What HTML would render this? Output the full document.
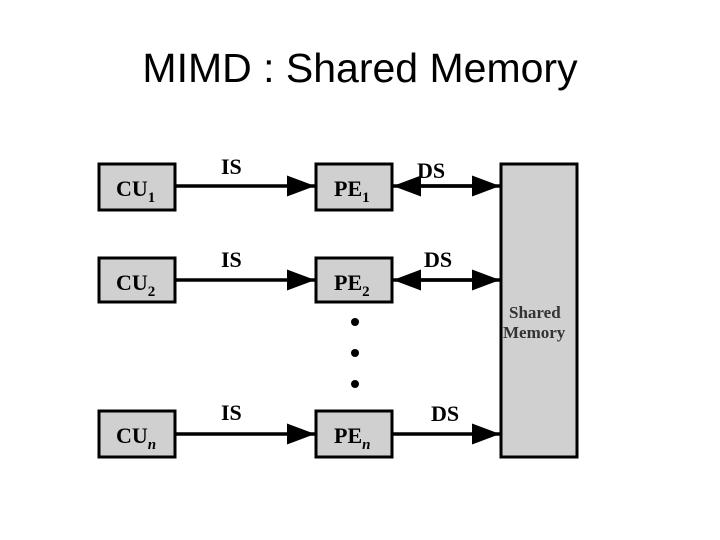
<!DOCTYPE html>
<html><head><style>
body{margin:0;background:#fff;width:720px;height:540px;overflow:hidden}
.t{position:absolute;top:44px;left:0;width:720px;text-align:center;font-family:"Liberation Sans",sans-serif;font-size:41px;line-height:48px;color:#000}
</style></head><body>
<div class="t">MIMD : Shared Memory</div>
<svg width="720" height="540" style="position:absolute;left:0;top:0" font-family="Liberation Serif,serif" font-weight="bold">
<defs>
<marker id="a" markerWidth="8" markerHeight="6" refX="8" refY="3" orient="auto" markerUnits="strokeWidth"><path d="M0,0L8,3L0,6z" fill="#000"/></marker>
</defs>
<g fill="#d0d0d0" stroke="#000" stroke-width="3">
<rect x="99" y="164" width="76" height="46"/>
<rect x="99" y="258" width="76" height="44"/>
<rect x="99" y="411" width="76" height="46"/>
<rect x="316" y="164" width="76" height="46"/>
<rect x="316" y="258" width="76" height="44"/>
<rect x="316" y="411" width="76" height="46"/>
<rect x="501" y="164" width="76" height="293"/>
</g>
<g stroke="#000" stroke-width="3.5">
<line x1="175" y1="186" x2="315" y2="186" marker-end="url(#a)"/>
<line x1="175" y1="280" x2="315" y2="280" marker-end="url(#a)"/>
<line x1="175" y1="434" x2="315" y2="434" marker-end="url(#a)"/>
<line x1="410" y1="186" x2="500" y2="186" marker-end="url(#a)"/>
<line x1="410" y1="280" x2="500" y2="280" marker-end="url(#a)"/>
<line x1="392" y1="434" x2="500" y2="434" marker-end="url(#a)"/>
<line x1="480" y1="186" x2="393" y2="186" marker-end="url(#a)"/>
<line x1="480" y1="280" x2="393" y2="280" marker-end="url(#a)"/>
</g>
<g fill="#000">
<circle cx="355" cy="322" r="4"/><circle cx="355" cy="353" r="4"/><circle cx="355" cy="384" r="4"/>
</g>
<g font-size="22" fill="#000">
<text x="116" y="196">CU<tspan font-size="15" dy="6">1</tspan></text>
<text x="116" y="290">CU<tspan font-size="15" dy="6">2</tspan></text>
<text x="116" y="443">CU<tspan font-size="15" font-style="italic" dy="6">n</tspan></text>
<text x="334" y="196">PE<tspan font-size="15" dy="6">1</tspan></text>
<text x="334" y="290">PE<tspan font-size="15" dy="6">2</tspan></text>
<text x="334" y="443">PE<tspan font-size="15" font-style="italic" dy="6">n</tspan></text>
<text x="221" y="174">IS</text>
<text x="221" y="267">IS</text>
<text x="221" y="420">IS</text>
<text x="417" y="178">DS</text>
<text x="424" y="267">DS</text>
<text x="431" y="421">DS</text>
</g>
<g font-size="17" fill="#333">
<text x="509" y="318">Shared</text>
<text x="503" y="338">Memory</text>
</g>
</svg>
</body></html>
